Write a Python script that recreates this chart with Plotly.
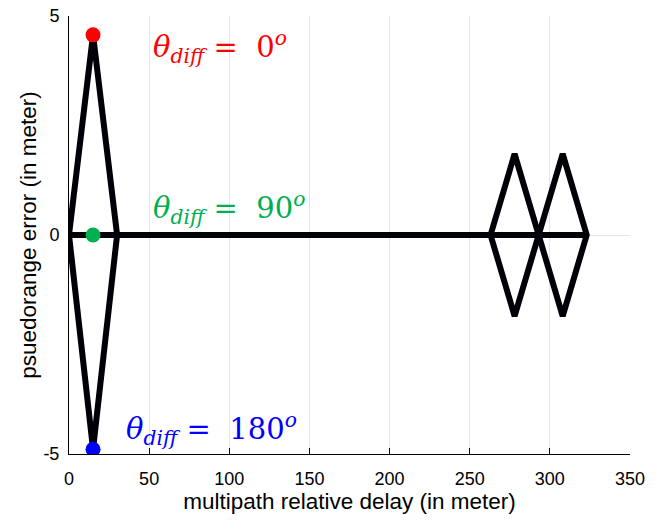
import plotly.graph_objects as go

# Data
d1_x = [0, 15, 30, 15, 0]
d1_y = [0, 4.57, 0, -4.89, 0]
base_x = [0, 323]
base_y = [0, 0]
d2_x = [263, 278, 293, 278, 263]
d2_y = [0, 1.85, 0, -1.85, 0]
d3_x = [293, 308, 323, 308, 293]
d3_y = [0, 1.85, 0, -1.85, 0]

pt_x = [15, 15, 15]
pt_y = [4.57, 0, -4.89]
pt_colors = ["#ff0000", "#00b050", "#0000ff"]

ann_text = ["<i>θ</i><sub><i>diff</i></sub> =  0<sup><i>o</i></sup>",
            "<i>θ</i><sub><i>diff</i></sub> =  90<sup><i>o</i></sup>",
            "<i>θ</i><sub><i>diff</i></sub> =  180<sup><i>o</i></sup>"]
ann_x = [51, 51, 34]
ann_y = [4.3, 0.62, -4.42]

xticks = [0, 50, 100, 150, 200, 250, 300, 350]
yticks = [-5, 0, 5]
yticklabels = ["-5", "0", "5"]

fig = go.Figure()
line_style = dict(color="#000008", width=6)
for xs, ys in [(d1_x, d1_y), (base_x, base_y), (d2_x, d2_y), (d3_x, d3_y)]:
    fig.add_trace(go.Scatter(x=xs, y=ys, mode="lines", line=line_style,
                             showlegend=False, hoverinfo="skip"))

fig.add_trace(go.Scatter(x=pt_x, y=pt_y, mode="markers",
                         marker=dict(color=pt_colors, size=15, line=dict(width=0)),
                         showlegend=False))

for t, x, y, c in zip(ann_text, ann_x, ann_y, pt_colors):
    fig.add_annotation(x=x, y=y, text=t, showarrow=False, xanchor="left", yanchor="middle",
                       font=dict(family="DejaVu Serif", size=29, color=c))

fig.update_layout(
    width=662, height=520,
    margin=dict(l=69, r=32, t=16, b=66, autoexpand=False),
    plot_bgcolor="white", paper_bgcolor="white",
    font=dict(family="Liberation Sans, Arial", size=18, color="black"),
)
fig.update_xaxes(range=[0, 350], tickvals=xticks, ticks="inside", ticklen=6, tickcolor="black",
                 showline=True, linecolor="black", linewidth=1, showgrid=True, gridcolor="#e5e5e5",
                 zeroline=False, mirror=False, ticklabelstandoff=8, automargin=False,
                 title=dict(text="multipath relative delay (in meter)", font=dict(size=22.5), standoff=4))
fig.update_yaxes(range=[-5, 5], tickvals=yticks, ticktext=yticklabels, ticks="inside", ticklen=6,
                 tickcolor="black", showline=True, linecolor="black", linewidth=1, showgrid=True,
                 gridcolor="#e5e5e5", zeroline=False, ticklabelstandoff=5, automargin=False,
                 title=dict(text="psuedorange error (in meter)", font=dict(size=22.5), standoff=0))

fig.write_html("out.html")
